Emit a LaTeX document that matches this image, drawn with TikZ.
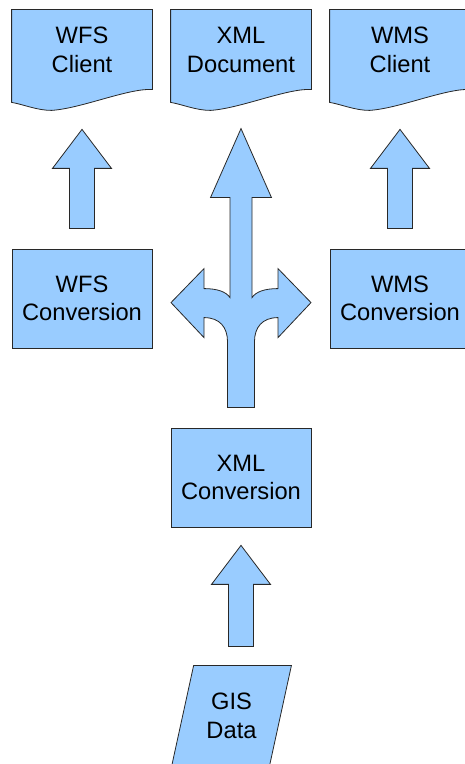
\documentclass[tikz,border=0pt]{standalone}
\usepackage{fontspec}
\setmainfont{Liberation Sans}
\usepackage{xcolor}
\usetikzlibrary{calc,backgrounds}
\definecolor{flowblue}{RGB}{153,204,255}
\definecolor{flowline}{RGB}{40,40,40}

\tikzset{
    flowshape/.style={draw=flowline, fill=flowblue, line width=0.8pt},
    procbox/.style={
        flowshape,
        minimum width=140pt,
        minimum height=99pt,
        inner sep=0pt,
        align=center,
        font=\fontsize{23.7}{28.5}\selectfont
    },
    docbox/.style={procbox, draw=none, fill=none, minimum height=80pt},
    databox/.style={procbox, draw=none, fill=none, minimum width=97pt, minimum height=100pt}
}

% block arrow pointing up, from tail point #1 to tip point #2
\newcommand\blockup[2]{%
    \draw[flowshape] let \p1=(#1), \p2=(#2) in
        ({\x1-12.5pt},\y1) -- ({\x1-12.5pt},{\y2-39pt}) -- ({\x1-29.5pt},{\y2-39pt})
        -- (\x1,\y2) -- ({\x1+29.5pt},{\y2-39pt}) -- ({\x1+12.5pt},{\y2-39pt})
        -- ({\x1+12.5pt},\y1) -- cycle;}

% document outline with wavy bottom, behind node #1
\newcommand\docoutline[1]{%
    \begin{pgfonlayer}{background}
    \draw[flowshape] (#1.north west) -- (#1.north east) -- ($(#1.south east)+(0,1)$)
        .. controls ($(#1.south east)+(-25,2)$) and ($(#1.south west)+(70,-18)$) .. ($(#1.south west)+(40,-20)$)
        .. controls ($(#1.south west)+(25,-20)$) and ($(#1.south west)+(12,-14)$) .. ($(#1.south west)+(0,-12)$)
        -- cycle;
    \end{pgfonlayer}}

\begin{document}
\begin{tikzpicture}[x=1pt, y=1pt]

\useasboundingbox (0,0) rectangle (464,764);

% clients and documents
\node[docbox] (wfsclient) at (82,714) {WFS\\Client};
\node[docbox] (xmldoc) at (241,714) {XML\\Document};
\node[docbox] (wmsclient) at (400,714) {WMS\\Client};
\docoutline{wfsclient}
\docoutline{xmldoc}
\docoutline{wmsclient}

% conversions
\node[procbox] (wfsconv) at (82,465.5) {WFS\\Conversion};
\node[procbox] (wmsconv) at (400,465.5) {WMS\\Conversion};
\node[procbox] (xmlconv) at (241,286.5) {XML\\Conversion};

% input data
\node[databox] (gis) at (231.5,48) {GIS\\Data};
\begin{pgfonlayer}{background}
\draw[flowshape] ($(gis.north west)+(11,0)$) -- ($(gis.north east)+(11,0)$)
    -- ($(gis.south east)+(-11,0)$) -- ($(gis.south west)+(-11,0)$) -- cycle;
\end{pgfonlayer}

\blockup{$(gis.north -| xmlconv.south)+(0,19)$}{$(xmlconv.south)+(0,-18)$}
\blockup{$(wfsconv.north)+(0,20)$}{$(wfsclient.south)+(0,-39)$}
\blockup{$(wmsconv.north)+(0,20)$}{$(wmsclient.south)+(0,-39)$}

% three way split above the xml conversion
\coordinate (fork) at ($(xmlconv.north)+(0,125)$);
\begin{scope}[shift={(fork)}]
\draw[flowshape] (0,174) -- (30.5,105) -- (11,105) -- (11,5)
    .. controls (15,11) and (24,14) .. (37,14) -- (37,34) -- (70,0) -- (37,-35) -- (37,-15)
    .. controls (21,-15) and (13.5,-25) .. (13.5,-39) -- (13.5,-105) -- (-13.5,-105) -- (-13.5,-39)
    .. controls (-13.5,-25) and (-21,-15) .. (-37,-15) -- (-37,-35) -- (-70,0) -- (-37,34) -- (-37,14)
    .. controls (-24,14) and (-15,11) .. (-11,5) -- (-11,105) -- (-30.5,105) -- cycle;
\end{scope}

\end{tikzpicture}
\end{document}
